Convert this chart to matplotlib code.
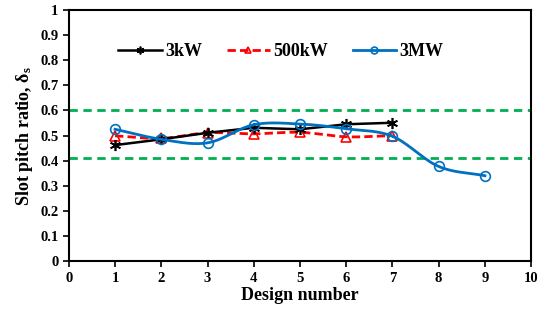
import matplotlib
matplotlib.use('Agg')
import matplotlib.pyplot as plt
import numpy as np

plt.rcParams['font.family'] = ['Liberation Serif', 'DejaVu Serif']
plt.rcParams['font.weight'] = 'bold'
plt.rcParams['mathtext.fontset'] = 'custom'
plt.rcParams['mathtext.rm'] = 'Liberation Serif:bold'
plt.rcParams['mathtext.it'] = 'Liberation Serif:bold'
plt.rcParams['mathtext.bf'] = 'Liberation Serif:bold'

# Slot pitch ratio per design
design_a = [1, 2, 3, 4, 5, 6, 7]
ratio_3kw = [0.462, 0.485, 0.511, 0.531, 0.525, 0.545, 0.551]
ratio_500kw = [0.499, 0.489, 0.511, 0.507, 0.513, 0.495, 0.500]
design_b = [1, 2, 3, 4, 5, 6, 7, 8, 9]
ratio_3mw = [0.525, 0.485, 0.471, 0.543, 0.546, 0.527, 0.497, 0.377, 0.340]
limits = [0.6, 0.41]


def smooth(x, y, n=30):
    # Catmull-Rom curve through the points (like a spreadsheet smoothed line)
    x = np.asarray(x, float)
    y = np.asarray(y, float)
    px = np.concatenate([[2 * x[0] - x[1]], x, [2 * x[-1] - x[-2]]])
    py = np.concatenate([[2 * y[0] - y[1]], y, [2 * y[-1] - y[-2]]])
    xs, ys = [], []
    t = np.linspace(0, 1, n)
    for i in range(1, len(px) - 2):
        for p, out in ((px, xs), (py, ys)):
            p0, p1, p2, p3 = p[i - 1], p[i], p[i + 1], p[i + 2]
            out.append(0.5 * (2 * p1 + (-p0 + p2) * t
                              + (2 * p0 - 5 * p1 + 4 * p2 - p3) * t ** 2
                              + (-p0 + 3 * p1 - 3 * p2 + p3) * t ** 3))
    return np.concatenate(xs), np.concatenate(ys)


fig = plt.figure(figsize=(5.55, 3.22), dpi=100)
ax = fig.add_axes([0.124, 0.189, 0.833, 0.78])

for lim in limits:
    ax.axhline(lim, color='#00B050', lw=2, ls=(0, (3, 2)), zorder=1)

ax.plot(design_a, ratio_3kw, color='black', lw=1.8, marker=(6, 2, 0),
        ms=8, mew=1.2, label='3kW', zorder=3)

sx, sy = smooth(design_a, ratio_500kw)
ax.plot(sx, sy, color='#FF0000', lw=2, ls=(0, (3, 1.5)), zorder=2)
ax.plot(design_a, ratio_500kw, ls='none', marker='^', ms=6.5, mfc='none',
        mec='#FF0000', mew=1.2, zorder=2)
ax.plot([], [], color='#FF0000', lw=2, ls=(0, (3, 1.5)), marker='^', ms=6.5,
        mfc='none', mec='#FF0000', mew=1.2, label='500kW')

sx, sy = smooth(design_b, ratio_3mw)
ax.plot(sx, sy, color='#0070C0', lw=2, zorder=4)
ax.plot(design_b, ratio_3mw, ls='none', marker='o', ms=7, mfc='none',
        mec='#0070C0', mew=1.2, zorder=4)
ax.plot([], [], color='#0070C0', lw=2, marker='o', ms=7, mfc='none',
        mec='#0070C0', mew=1.2, label='3MW')

ax.set_xlim(0, 10)
ax.set_ylim(0, 1)
ax.set_xticks(range(0, 11))
ax.set_yticks(np.arange(0, 1.01, 0.1))
ax.set_yticklabels(['0'] + ['%.1f' % v for v in np.arange(0.1, 0.95, 0.1)] + ['1'])
ax.tick_params(direction='out', length=4, width=1.2, labelsize=10.5)
for s in ax.spines.values():
    s.set_linewidth(1.5)

ax.set_xlabel('Design number', fontsize=13, fontweight='bold', labelpad=2)
ax.set_ylabel(r'Slot pitch ratio, δ$_\mathrm{s}$', fontsize=13,
              fontweight='bold', labelpad=4)

ax.legend(loc='center left', bbox_to_anchor=(0.072, 0.835), ncol=3,
          frameon=False, fontsize=13, handlelength=2.4, columnspacing=1.35,
          handletextpad=0.2, markerscale=0.7)

fig.savefig('out.png', dpi=100)
